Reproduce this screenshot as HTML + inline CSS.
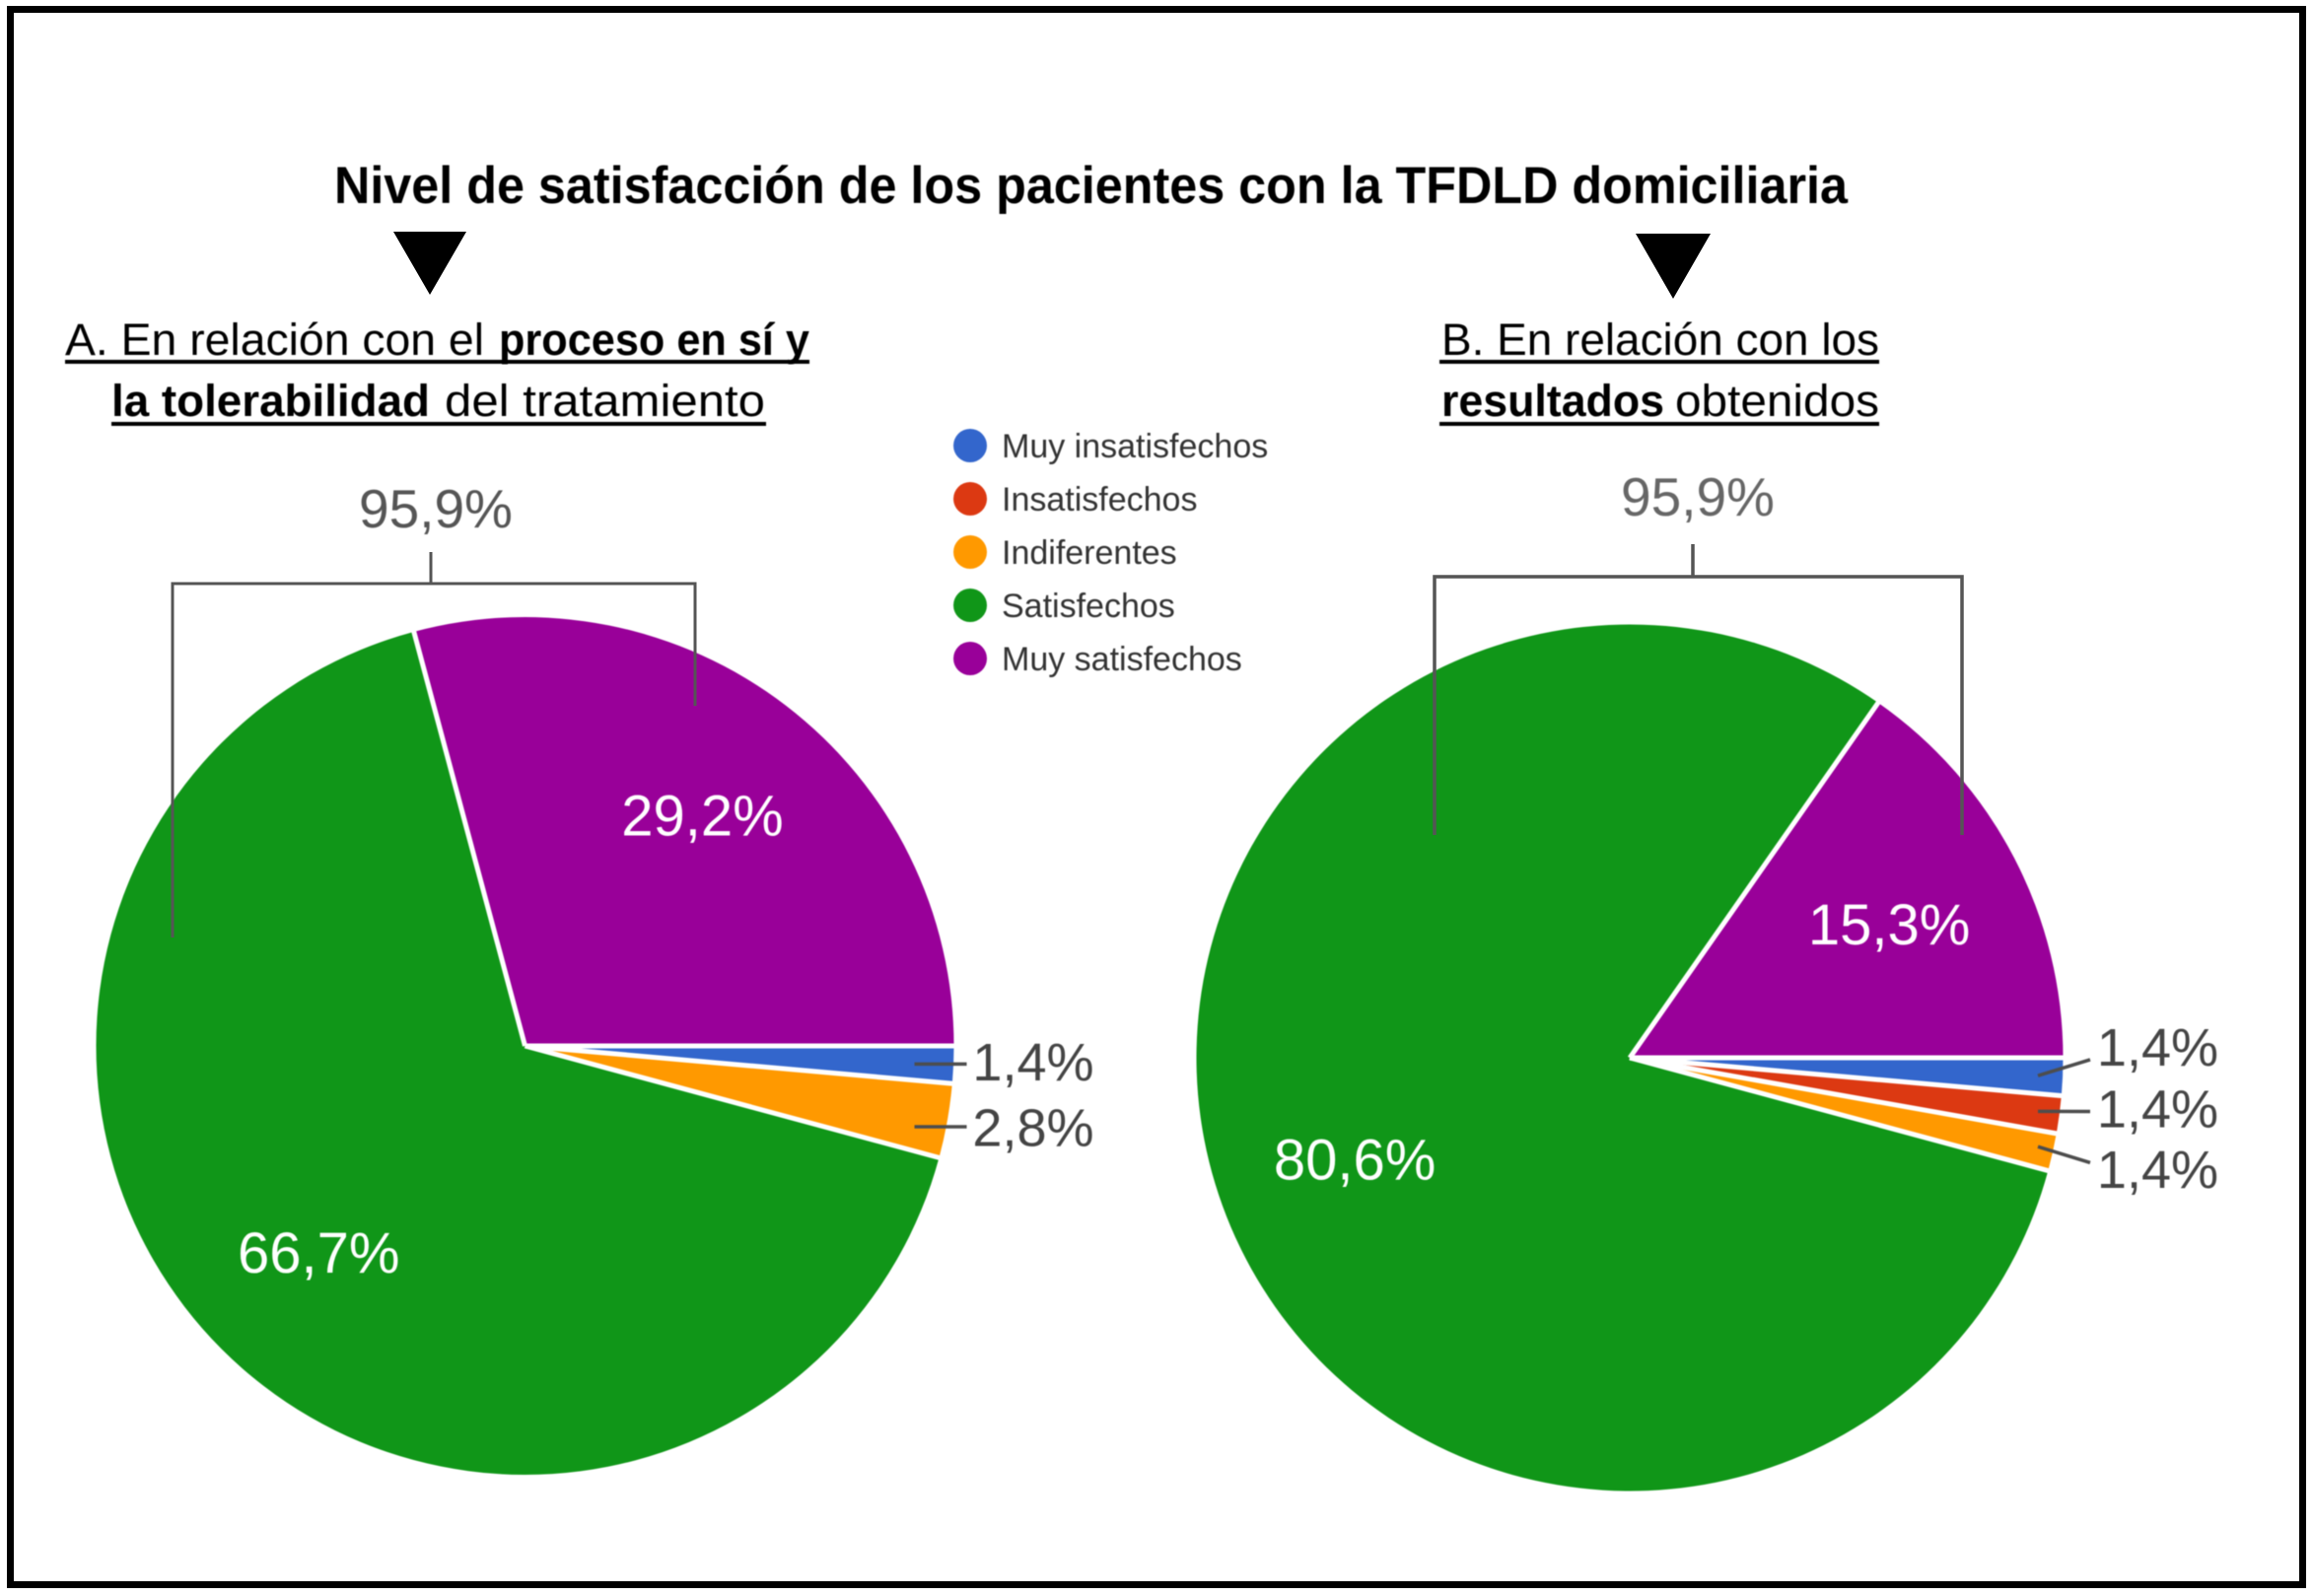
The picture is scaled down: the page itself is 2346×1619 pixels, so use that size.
<!DOCTYPE html>
<html lang="es">
<head>
<meta charset="utf-8">
<title>Nivel de satisfacción de los pacientes con la TFDLD domiciliaria</title>
<style>
html,body{margin:0;padding:0;background:#fff;width:2346px;height:1619px;overflow:hidden}
svg{display:block}
.hd{font-family:"Liberation Sans",sans-serif;fill:#000}
.b{font-weight:700}
.soft{filter:blur(.6px)}
</style>
</head>
<body>
<svg id="chart" xmlns="http://www.w3.org/2000/svg" width="2346" height="1619" viewBox="0 0 2346 1619">
  <rect x="0" y="0" width="2346" height="1619" fill="#fff"/>
  <rect x="10.5" y="9.5" width="2325" height="1598" fill="none" stroke="#000" stroke-width="7"/>

  <text class="hd b soft" x="339" y="206" font-size="53" textLength="1535" lengthAdjust="spacingAndGlyphs">Nivel de satisfacción de los pacientes con la TFDLD domiciliaria</text>
  <polygon points="399,235 473,235 436,299" fill="#000"/>
  <polygon points="1659,237 1735,237 1697,303" fill="#000"/>

  <g class="soft">
    <text class="hd" x="66" y="360" font-size="45" textLength="425" lengthAdjust="spacingAndGlyphs">A. En relación con el</text>
    <text class="hd b" x="506" y="360" font-size="45" textLength="315" lengthAdjust="spacingAndGlyphs">proceso en sí y</text>
    <rect x="66" y="365" width="755" height="4" fill="#000"/>
    <text class="hd b" x="113" y="422" font-size="45" textLength="323" lengthAdjust="spacingAndGlyphs">la tolerabilidad</text>
    <text class="hd" x="451" y="422" font-size="45" textLength="325" lengthAdjust="spacingAndGlyphs">del tratamiento</text>
    <rect x="113" y="428" width="664" height="4" fill="#000"/>
  </g>
  <g class="soft">
    <text class="hd" x="1462" y="360" font-size="45" textLength="444" lengthAdjust="spacingAndGlyphs">B. En relación con los</text>
    <rect x="1460" y="365" width="446" height="4" fill="#000"/>
    <text class="hd b" x="1462" y="422" font-size="45" textLength="226" lengthAdjust="spacingAndGlyphs">resultados</text>
    <text class="hd" x="1699" y="422" font-size="45" textLength="207" lengthAdjust="spacingAndGlyphs">obtenidos</text>
    <rect x="1460" y="428" width="446" height="4" fill="#000"/>
  </g>

  <g id="pie-a" class="soft"></g>
  <g id="pie-b" class="soft"></g>

  <path d="M437 560V592M175 951V592H705V716" fill="none" stroke="#555" stroke-width="3"/>
  <path d="M1717 552V585M1455 847V585H1990V847" fill="none" stroke="#555" stroke-width="3.5"/>

  <g id="legend" class="soft"></g>
</svg>
<script>
const categories = ['Muy insatisfechos', 'Insatisfechos', 'Indiferentes', 'Satisfechos', 'Muy satisfechos'];
const seriesColors = ['#3366cc', '#dc3912', '#ff9900', '#109618', '#990099'];
const valuesA = [1.4, 0, 2.8, 66.7, 29.2];
const valuesB = [1.4, 1.4, 1.4, 80.6, 15.3];

const NS = 'http://www.w3.org/2000/svg';
const FONT = '"Liberation Sans", sans-serif';

function fmt(v) {
  return v.toFixed(1).replace('.', ',') + '%';
}

function svgEl(parent, tag, attrs) {
  const el = document.createElementNS(NS, tag);
  for (const k in attrs) el.setAttribute(k, attrs[k]);
  parent.appendChild(el);
  return el;
}

function point(cx, cy, r, a) {
  return [cx + r * Math.cos(a), cy + r * Math.sin(a)];
}

function angleScale(values) {
  const total = values.reduce(function (s, v) { return s + v; }, 0);
  return function (v) { return v / total * Math.PI * 2; };
}

function drawPie(group, values, geo) {
  const toAngle = angleScale(values);
  const slices = [];
  let a0 = 0;
  values.forEach(function (v, i) {
    const a1 = a0 + toAngle(v);
    slices.push({ v: v, i: i, a0: a0, a1: a1, mid: (a0 + a1) / 2 });
    a0 = a1;
  });

  slices.forEach(function (s) {
    if (s.v <= 0) return;
    const p0 = point(geo.cx, geo.cy, geo.r, s.a0);
    const p1 = point(geo.cx, geo.cy, geo.r, s.a1);
    const large = s.a1 - s.a0 > Math.PI ? 1 : 0;
    const d = 'M' + geo.cx + ' ' + geo.cy + 'L' + p0[0] + ' ' + p0[1] +
      'A' + geo.r + ' ' + geo.r + ' 0 ' + large + ' 1 ' + p1[0] + ' ' + p1[1] + 'Z';
    const path = svgEl(group, 'path', { d: d, fill: seriesColors[s.i] });
    
    
  });

  // White separators between slices, drawn as radial lines only so the outer rim stays full size.
  slices.forEach(function (s) {
    if (s.v <= 0) return;
    const p = point(geo.cx, geo.cy, geo.r + 1, s.a0);
    const sep = svgEl(group, 'line', { x1: geo.cx, y1: geo.cy, x2: p[0], y2: p[1], stroke: '#fff', 'stroke-width': 5 });
    
    
  });

  // Small slices are labelled outside with leader lines; large ones inside.
  const small = slices.filter(function (s) { return s.v > 0 && s.v < 5; });
  const starts = small.map(function (s) { return point(geo.cx, geo.cy, geo.leaderR, s.mid); });
  const midY = starts.reduce(function (t, p) { return t + p[1]; }, 0) / starts.length;

  small.forEach(function (s, n) {
    const sy = starts[n][1];
    const endY = midY + geo.leaderShift + (sy - midY) * geo.leaderSpread;
    const labelY = midY + geo.labelShift + (sy - midY) * geo.labelSpread;
    const line = svgEl(group, 'line', {
      x1: geo.cx + geo.leaderR, y1: geo.flat ? endY : sy,
      x2: geo.cx + geo.leaderEnd, y2: endY,
      stroke: '#4d4d4d', 'stroke-width': 3.5
    });
    
    
    const t = svgEl(group, 'text', {
      x: geo.cx + geo.labelEnd, y: labelY, 'text-anchor': 'end',
      'font-family': FONT, 'font-size': 54, fill: '#444'
    });
    t.textContent = fmt(s.v);
    
    
  });

  slices.forEach(function (s) {
    if (s.v < 5) return;
    const p = point(geo.cx, geo.cy, geo.r * geo.innerLabelR, s.mid);
    const t = svgEl(group, 'text', {
      x: p[0], y: p[1] + geo.innerLabelDy, 'text-anchor': 'middle',
      'font-family': FONT, 'font-size': 58, fill: '#fff'
    });
    t.textContent = fmt(s.v);
    
    
  });

  // Bracket label: the two satisfied groups combined.
  const combined = values[3] + values[4];
  const bt = svgEl(group, 'text', {
    x: geo.bracketX, y: geo.bracketY, 'text-anchor': 'middle',
    'font-family': FONT, 'font-size': 55, fill: geo.bracketFill
  });
  bt.textContent = fmt(combined);
  
  
}

drawPie(document.getElementById('pie-a'), valuesA, {
  id: 'a', cx: 532.5, cy: 1061, r: 435, innerLabelR: 0.68, innerLabelDy: 21,
  leaderR: 395, leaderEnd: 448, leaderShift: 7, leaderSpread: 1.23, flat: true,
  labelEnd: 577, labelShift: 25, labelSpread: 1.29,
  bracketX: 442, bracketY: 535, bracketFill: '#555'
});
drawPie(document.getElementById('pie-b'), valuesB, {
  id: 'b', cx: 1653, cy: 1073, r: 439.5, innerLabelR: 0.675, innerLabelDy: 22,
  leaderR: 414, leaderEnd: 467, leaderShift: 0, leaderSpread: 1.45, flat: false,
  labelEnd: 597, labelShift: 16, labelSpread: 1.72,
  bracketX: 1722, bracketY: 523, bracketFill: '#666'
});

const legendGroup = document.getElementById('legend');
categories.forEach(function (name, i) {
  const slug = name.toLowerCase().replace(/ /g, '-');
  const rowY = 452 + i * 54;
  const g = svgEl(legendGroup, 'g', {});
  
  
  const c = svgEl(g, 'circle', { cx: 984, cy: rowY, r: 17, fill: seriesColors[i] });
  
  
  const t = svgEl(g, 'text', { x: 1016, y: rowY + 12, 'font-family': FONT, 'font-size': 34, fill: '#333' });
  t.textContent = name;
  
  
});
</script>
</body>
</html>
